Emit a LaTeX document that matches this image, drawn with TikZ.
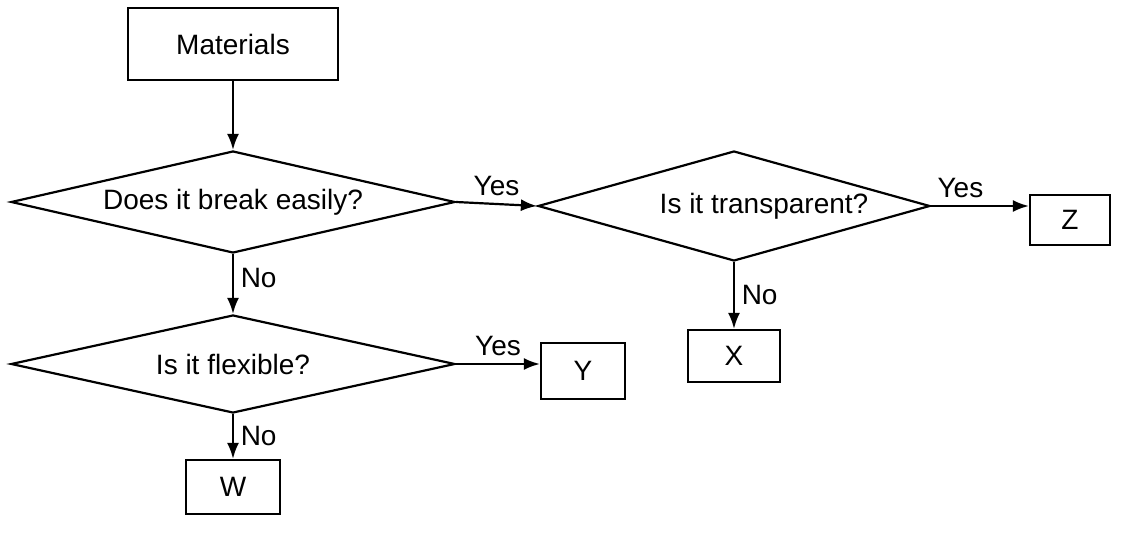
\documentclass[tikz,border=0pt]{standalone}
\usepackage{fontspec}
\setmainfont{Liberation Sans}
\usetikzlibrary{shapes.geometric,arrows.meta}
\begin{document}
\begin{tikzpicture}[x=0.5pt,y=-0.5pt,
  font=\fontsize{14}{16}\selectfont, line width=1.1pt,
  box/.style={draw, rectangle, inner sep=0pt},
  ask/.style={draw, diamond, inner sep=0pt},
  flow/.style={-{Latex[length=8pt,width=6pt]}}]
\useasboundingbox (0,0) rectangle (1121,534);
\node[box, minimum width=105pt, minimum height=36pt] (mat) at (233,44) {Materials};
\node[ask, aspect=4.36, minimum width=222pt, minimum height=51pt] (brk) at (233,202) {Does it break easily?};
\node[ask, aspect=3.56, minimum width=196pt, minimum height=55pt] (trn) at (734,206) {\hspace{30pt}Is it transparent?};
\node[ask, aspect=4.5, minimum width=222pt, minimum height=49pt] (flx) at (233,364) {Is it flexible?};
\node[box, minimum width=40pt, minimum height=25pt] (z) at (1070,220) {Z};
\node[box, minimum width=46pt, minimum height=26pt] (x) at (734,356) {X};
\node[box, minimum width=42pt, minimum height=28pt] (y) at (583,371) {Y};
\node[box, minimum width=47pt, minimum height=27pt] (w) at (233,487) {W};
\draw[flow] (mat) -- (brk);
\draw[flow] (brk.east) -- node[above] {Yes} (trn.west);
\draw[flow] (trn.east) -- node[above, pos=0.3] {Yes} (trn.east -| z.west);
\draw[flow] (trn.south) -- node[right] {No} (x.north);
\draw[flow] (brk.south) -- node[right, pos=0.4] {No} (flx.north);
\draw[flow] (flx.east) -- node[above] {Yes} (flx.east -| y.west);
\draw[flow] (flx.south) -- node[right] {No} (w.north);
\end{tikzpicture}
\end{document}
